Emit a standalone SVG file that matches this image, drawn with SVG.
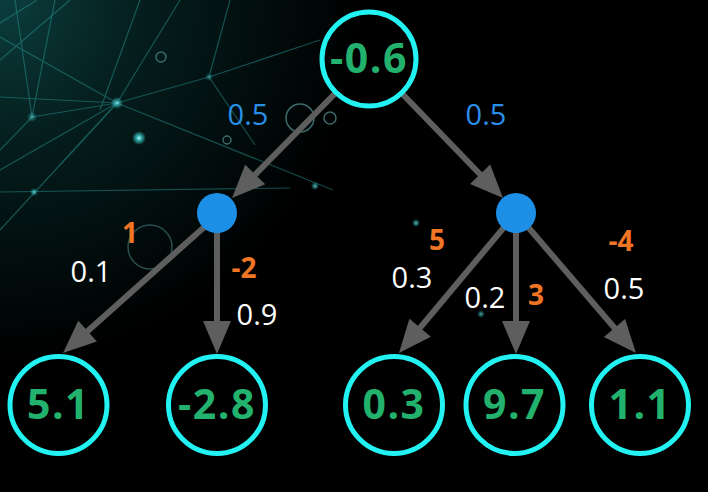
<svg xmlns="http://www.w3.org/2000/svg" width="708" height="492" viewBox="0 0 708 492">
<defs>
<radialGradient id="glow" cx="0" cy="0" r="360" gradientUnits="userSpaceOnUse">
<stop offset="0" stop-color="#0c3d3d"/>
<stop offset="0.4" stop-color="#051d1d"/>
<stop offset="1" stop-color="#000000"/>
</radialGradient>
<radialGradient id="dotglow">
<stop offset="0" stop-color="#c8ffff"/>
<stop offset="0.35" stop-color="#3fd6d6" stop-opacity="0.8"/>
<stop offset="1" stop-color="#3fd6d6" stop-opacity="0"/>
</radialGradient>
<style>
.net{stroke:#2aa09d;stroke-width:1.2;fill:none}
.ring{stroke:#3a6a6a;stroke-width:1.5;fill:none}
.node circle{fill:none;stroke:#22f2f2;stroke-width:5}
.val{font-family:"Open Sans","DejaVu Sans",sans-serif;font-weight:700;font-size:41px;fill:#23b26d;text-anchor:middle;letter-spacing:1.5px}
.dot{fill:#1e8fe6}
.arr line{stroke:#5e5e5e;stroke-width:6}
.arr polygon{fill:#5e5e5e}
.lbl{font-family:"Open Sans","DejaVu Sans",sans-serif;font-size:29px;text-anchor:middle}
.blue{fill:#2a8fe8}
.white{fill:#ffffff}
.orange{fill:#f07524;font-weight:700;font-size:28px}
</style>
</defs>
<rect width="708" height="492" fill="url(#glow)"/>
<g id="background">
<g class="net" opacity="0.45">
<line x1="0" y1="23" x2="37" y2="0"/>
<line x1="0" y1="37" x2="117" y2="103"/>
<line x1="117" y1="103" x2="333" y2="190"/>
<line x1="0" y1="192" x2="290" y2="188"/>
<line x1="0" y1="170" x2="117" y2="103"/>
<line x1="117" y1="103" x2="180" y2="0"/>
<line x1="0" y1="97" x2="117" y2="103"/>
<line x1="117" y1="103" x2="209" y2="77"/>
<line x1="209" y1="77" x2="320" y2="40"/>
<line x1="209" y1="77" x2="230" y2="0"/>
<line x1="209" y1="77" x2="255" y2="145"/>
<line x1="32" y1="117" x2="15" y2="0"/>
<line x1="32" y1="117" x2="55" y2="0"/>
<line x1="0" y1="150" x2="32" y2="117"/>
<line x1="32" y1="117" x2="117" y2="103"/>
<line x1="0" y1="60" x2="70" y2="0"/>
<line x1="117" y1="103" x2="60" y2="165"/>
<line x1="0" y1="230" x2="117" y2="103"/>
<line x1="140" y1="0" x2="100" y2="110"/>
</g>
<g class="ring">
<circle cx="161" cy="57" r="5"/>
<circle cx="300" cy="118" r="14"/>
<circle cx="330" cy="118" r="6"/>
<circle cx="227" cy="140" r="4"/>
<circle cx="150" cy="247" r="22" opacity="0.7"/>
</g>
<circle cx="139" cy="138" r="7" fill="url(#dotglow)"/>
<circle cx="117" cy="103" r="6" fill="url(#dotglow)" opacity="0.8"/>
<circle cx="32" cy="117" r="5" fill="url(#dotglow)" opacity="0.5"/>
<circle cx="34" cy="192" r="4" fill="url(#dotglow)" opacity="0.7"/>
<circle cx="315" cy="186" r="4" fill="url(#dotglow)" opacity="0.7"/>
<circle cx="416" cy="223" r="4" fill="url(#dotglow)" opacity="0.7"/>
<circle cx="481" cy="314" r="4" fill="url(#dotglow)" opacity="0.6"/>
<circle cx="209" cy="77" r="4" fill="url(#dotglow)" opacity="0.4"/>
</g>
<g id="connectors" class="arr">
<line x1="336" y1="92.5" x2="249.6" y2="180.2"/>
<polygon points="232,198 245.2,164.7 265.2,184.3"/>
<line x1="401.5" y1="93" x2="485.6" y2="180"/>
<polygon points="503,198 470,184 490.2,164.6"/>
<line x1="220" y1="213" x2="81.6" y2="336.4"/>
<polygon points="63,353 78.3,320.7 96.9,341.5"/>
<line x1="217" y1="213" x2="217" y2="329"/>
<polygon points="217,354 203,321 231,321"/>
<line x1="516" y1="213" x2="415" y2="333.8"/>
<polygon points="399,353 409.4,318.7 430.9,336.7"/>
<line x1="516" y1="213" x2="516" y2="329"/>
<polygon points="516,354 502,321 530,321"/>
<line x1="516" y1="213" x2="619.7" y2="334"/>
<polygon points="636,353 603.9,337.1 625.1,318.9"/>
</g>
<g id="edge-labels">
<text class="lbl blue" x="248" y="125">0.5</text>
<text class="lbl blue" x="486" y="125">0.5</text>
<text class="lbl orange" x="130" y="243">1</text>
<text class="lbl white" x="91" y="282">0.1</text>
<text class="lbl orange" x="244" y="278">-2</text>
<text class="lbl white" x="257" y="325">0.9</text>
<text class="lbl orange" x="437" y="250">5</text>
<text class="lbl white" x="412" y="288">0.3</text>
<text class="lbl white" x="485" y="308">0.2</text>
<text class="lbl orange" x="536" y="305">3</text>
<text class="lbl orange" x="621" y="251">-4</text>
<text class="lbl white" x="624" y="299">0.5</text>
</g>
<g id="root" class="node"><circle cx="369" cy="59" r="47"/><text class="val" x="369" y="73">-0.6</text></g>
<g id="hidden-left"><circle class="dot" cx="217" cy="213" r="20"/></g>
<g id="hidden-right"><circle class="dot" cx="516" cy="213" r="20"/></g>
<g id="leaf-1" class="node"><circle cx="58.5" cy="405" r="48.5"/><text class="val" x="58.5" y="419">5.1</text></g>
<g id="leaf-2" class="node"><circle cx="217" cy="405" r="48.5"/><text class="val" x="217" y="419">-2.8</text></g>
<g id="leaf-3" class="node"><circle cx="394" cy="405" r="48.5"/><text class="val" x="394" y="419">0.3</text></g>
<g id="leaf-4" class="node"><circle cx="514.5" cy="405" r="48.5"/><text class="val" x="514.5" y="419">9.7</text></g>
<g id="leaf-5" class="node"><circle cx="640" cy="405" r="48.5"/><text class="val" x="640" y="419">1.1</text></g>
</svg>
